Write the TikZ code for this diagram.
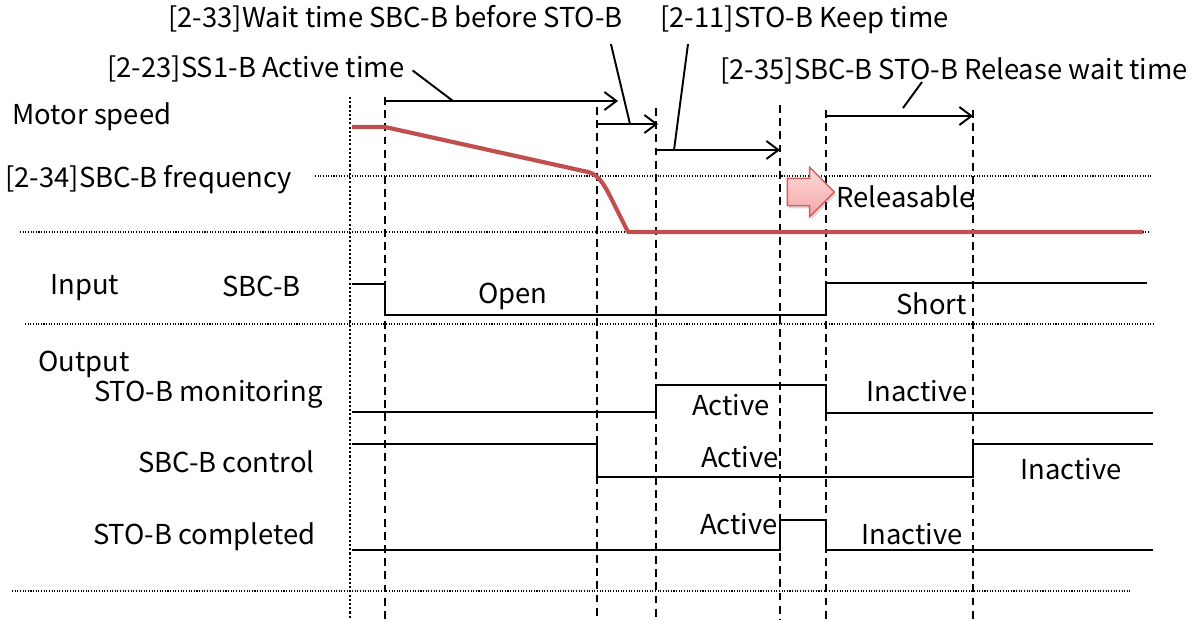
\documentclass[tikz,border=0pt]{standalone}
\usepackage{fontspec}
\setmainfont{Noto Sans CJK JP}
\usepackage{xcolor}
\usepackage{tikz}
\usetikzlibrary{arrows.meta, positioning, calc, shapes.arrows, shadows}
\definecolor{speedred}{RGB}{192,80,77}
\definecolor{arrowpink}{RGB}{246,165,165}
\definecolor{arrowedge}{RGB}{210,95,95}

\begin{document}
\begin{tikzpicture}[
    x=0.02cm, y=-0.02cm,
    >={Straight Barb[length=2.4mm, width=3.6mm]},
    lbl/.style={inner sep=0pt, font=\fontsize{15.6}{18}\selectfont},
    sig/.style={line width=1.1pt},
    guide/.style={line width=1.1pt, dash pattern=on 4.5pt off 3pt},
    level/.style={line width=0.9pt, dash pattern=on 0.6pt off 0.9pt},
    span/.style={->, line width=1.1pt},
    leader/.style={line width=1.1pt},
]
    \useasboundingbox (0,0) rectangle (1195,619);

    \draw[level] (315,176) -- (1153,176);
    \draw[level] (20,232) -- (1150,232);
    \draw[level] (25,324) -- (1155,324);
    \draw[level] (12,591) -- (1130,591);
    \draw[line width=1.4pt, dash pattern=on 1.2pt off 1.2pt] (350,97) -- (350,619);
    \foreach \x/\y in {385/97, 597/107, 656/108, 780/105, 826/110, 973/110}
        \draw[guide] (\x,\y) -- (\x,619);

    \draw[speedred, line width=2.4pt, line join=round] (352,127) -- (385,127) -- (588,172)
        .. controls (600,175) and (606,188) .. (614,204) -- (628,232) -- (1143,232);

    \node[lbl, anchor=base west] (wait) at (168,27) {[2-33]Wait time SBC-B before STO-B};
    \node[lbl, anchor=base west] (keep) at (660,27) {[2-11]STO-B Keep time};
    \node[lbl, anchor=base west] (ss1) at (107,77) {[2-23]SS1-B Active time};
    \node[lbl, anchor=base west] (relwait) at (720,79) {[2-35]SBC-B STO-B Release wait time};
    \node[lbl, anchor=base west] (motor) at (12,124) {Motor speed};
    \node[lbl, anchor=base west] (freq) at (5,187) {[2-34]SBC-B frequency};

    \coordinate (ss1arr) at (453,101);
    \coordinate (waitarr) at (630,124);
    \coordinate (keeparr) at (674,150);
    \coordinate (relarr) at (903,108);
    \draw[span] (385,101) -- (618,101);
    \draw[span] (597,124) -- (658,124);
    \draw[span] (656,150) -- (780,150);
    \draw[span] (826,116) -- (973,116);
    \draw[leader] ($(ss1.east)+(8,2)$) -- (ss1arr);
    \draw[leader] ($(wait.base east)+(-12,17)$) -- (waitarr);
    \draw[leader] ($(keep.base west)+(28,17)$) -- (keeparr);
    \draw[leader] ($(relwait.base west)+(202,3)$) -- (relarr);

    \node[single arrow, draw=arrowedge, line width=0.8pt, top color=arrowpink!40, bottom color=arrowpink,
        minimum height=0.94cm, minimum width=0.96cm, inner sep=0.26cm, single arrow head extend=0.22cm,
        drop shadow={opacity=0.3, shadow xshift=1pt, shadow yshift=-1.5pt}] (relarrow) at (804,192) {};
    \node[lbl, anchor=base west] (releasable) at (836,207) {Releasable};

    \node[lbl, anchor=base west] (input) at (50,294) {Input};
    \node[lbl, anchor=base west] (sbcin) at (222,296) {SBC-B};
    \node[lbl, anchor=base west] (open) at (478,303) {Open};
    \node[lbl, anchor=base east] (short) at (967,314) {Short};
    \draw[sig] (352,284) -- (385,284) -- (385,315) -- (826,315) -- (826,283) -- (1147,283);

    \node[lbl, anchor=base west] (output) at (38,371) {Output};
    \node[lbl, anchor=base east] (stomon) at (323,401) {STO-B monitoring};
    \node[lbl, anchor=base east] (monact) at (770,415) {Active};
    \node[lbl, anchor=base east] (moninact) at (968,401) {Inactive};
    \draw[sig] (352,412) -- (656,412) -- (656,385) -- (826,385) -- (826,413) -- (1153,413);

    \node[lbl, anchor=base east] (sbcctl) at (315,472) {SBC-B control};
    \node[lbl, anchor=base east] (ctlact) at (779,467) {Active};
    \node[lbl, anchor=base west] (ctlinact) at (1020,479) {Inactive};
    \draw[sig] (352,444) -- (597,444) -- (597,477) -- (973,477) -- (973,444) -- (1153,444);

    \node[lbl, anchor=base east] (stocomp) at (316,544) {STO-B completed};
    \node[lbl, anchor=base east] (compact) at (778,534) {Active};
    \node[lbl, anchor=base east] (compinact) at (963,544) {Inactive};
    \draw[sig] (352,550) -- (780,550) -- (780,520) -- (826,520) -- (826,550) -- (1153,550);
\end{tikzpicture}
\end{document}
